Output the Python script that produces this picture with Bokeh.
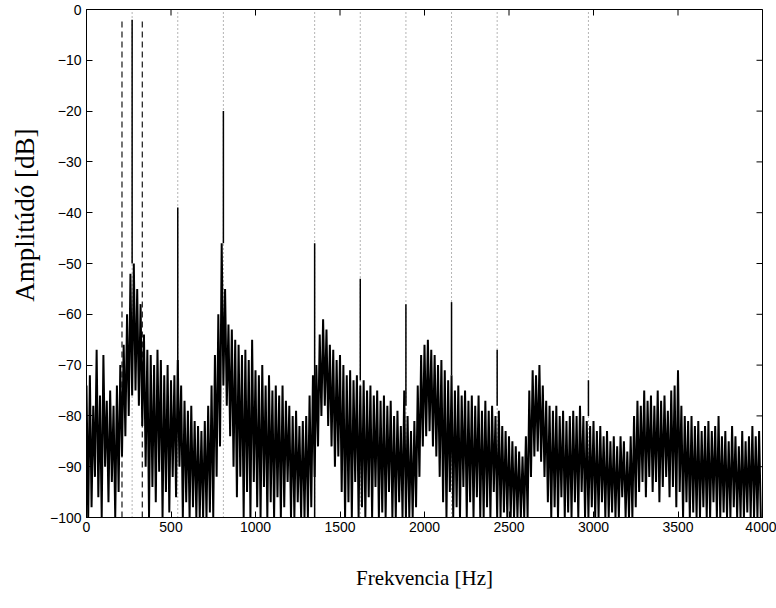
import math
from bokeh.plotting import figure
from bokeh.models import (FixedTicker, Range1d, Title, CustomJSTickFormatter)
from bokeh.embed import file_html
from bokeh.resources import INLINE

# ---------------- data ----------------
# spectrum bins, 20 Hz apart: top and bottom of the noise band (dB)
bin_hz = list(range(0, 4000, 20))
upper_db = [
    -74, -72, -78, -67, -76, -68, -77, -75, -78, -74,   # 0-180
    -70, -66, -60, -52, -50, -55, -58, -64, -67, -68,   # 200-380
    -70, -67, -69, -72, -70, -73, -72, -69, -74, -77,   # 400-580
    -79, -78, -81, -82, -83, -81, -78, -74, -68, -60,   # 600-780
    -46, -55, -62, -63, -65, -66, -68, -67, -69, -65,   # 800-980
    -71, -72, -70, -74, -72, -75, -74, -76, -74, -77,   # 1000-1180
    -78, -80, -79, -82, -81, -80, -76, -72, -70, -64,   # 1200-1380
    -61, -63, -66, -67, -69, -68, -70, -72, -71, -73,   # 1400-1580
    -72, -74, -73, -75, -74, -76, -75, -77, -76, -78,   # 1600-1780
    -77, -80, -79, -82, -75, -80, -83, -81, -74, -68,   # 1800-1980
    -66, -65, -67, -68, -70, -69, -71, -73, -72, -75,   # 2000-2180
    -74, -76, -75, -77, -76, -78, -76, -79, -77, -79,   # 2200-2380
    -78, -80, -79, -82, -83, -84, -85, -86, -87, -88,   # 2400-2580
    -84, -75, -71, -72, -70, -74, -77, -78, -79, -78,   # 2600-2780
    -80, -79, -81, -80, -79, -80, -78, -80, -81, -82,   # 2800-2980
    -81, -83, -82, -84, -83, -85, -84, -86, -84, -85,   # 3000-3180
    -87, -84, -80, -77, -78, -75, -77, -76, -78, -75,   # 3200-3380
    -77, -76, -79, -75, -74, -71, -78, -80, -81, -80,   # 3400-3580
    -82, -81, -83, -82, -81, -83, -82, -80, -84, -83,   # 3600-3780
    -85, -82, -84, -86, -83, -85, -84, -82, -84, -83,   # 3800-3980
]
lower_db = [
    -100, -98, -92, -96, -100, -90, -97, -93, -100, -95,
    -88, -84, -80, -76, -75, -78, -82, -90, -100, -94,
    -97, -91, -100, -95, -99, -92, -96, -90, -100, -97,
    -100, -98, -100, -100, -100, -100, -99, -100, -92, -86,
    -74, -78, -84, -90, -96, -92, -100, -95, -100, -93,
    -98, -100, -94, -100, -97, -100, -96, -100, -98, -93,
    -100, -100, -97, -100, -100, -100, -98, -92, -86, -80,
    -78, -82, -86, -90, -88, -95, -100, -97, -100, -93,
    -100, -98, -100, -96, -100, -94, -100, -99, -100, -95,
    -100, -100, -97, -100, -100, -100, -100, -98, -92, -86,
    -84, -83, -86, -88, -92, -97, -100, -95, -100, -98,
    -100, -94, -100, -97, -100, -96, -100, -100, -98, -100,
    -95, -100, -100, -99, -100, -100, -100, -100, -100, -100,
    -100, -92, -88, -87, -89, -92, -97, -100, -98, -100,
    -96, -100, -99, -100, -97, -100, -95, -100, -100, -98,
    -100, -100, -97, -100, -100, -99, -100, -100, -96, -100,
    -100, -100, -98, -95, -93, -96, -92, -95, -93, -97,
    -94, -92, -96, -94, -98, -95, -100, -97, -100, -99,
    -100, -100, -98, -100, -100, -97, -100, -100, -99, -100,
    -100, -98, -100, -100, -100, -99, -100, -100, -100, -100,
]

# harmonic spikes
harm_hz = [270, 540, 810, 1350, 1620, 1890, 2160, 2430, 2970]
harm_db = [-2, -39, -20, -46, -53, -58, -57.6, -67, -73]
harm_base_db = [-50, -72, -46, -100, -73, -78, -72, -78, -80]

# dotted guide lines (harmonics) and dashed band limits
guide_hz = [270, 540, 810, 1350, 1620, 1890, 2160, 2430, 2970]
band_hz = [210, 330]

x_ticks = [0, 500, 1000, 1500, 2000, 2500, 3000, 3500, 4000]
y_ticks = [-100, -90, -80, -70, -60, -50, -40, -30, -20, -10, 0]
x_min, x_max = 0, 4000
y_min, y_max = -100, 0

# ---------------- figure ----------------
p = figure(width=776, height=608, output_backend="svg", toolbar_location=None,
           x_range=Range1d(x_min, x_max), y_range=Range1d(y_min, y_max),
           min_border_left=86, min_border_right=14, min_border_top=9,
           min_border_bottom=91)
p.grid.visible = False
p.outline_line_color = "black"
p.outline_line_width = 1
p.background_fill_color = "white"
p.border_fill_color = "white"

# guide lines
p.segment(x0=guide_hz, y0=[y_min] * len(guide_hz), x1=guide_hz, y1=[y_max] * len(guide_hz),
          line_color="#6a6a6a", line_width=1, line_dash="1 3")
p.segment(x0=band_hz, y0=[y_min] * len(band_hz), x1=band_hz, y1=[max(harm_db)] * len(band_hz),
          line_color="black", line_width=1.1, line_dash="6 4")

# noise band as a dense zig-zag line
xs, ys = [], []
for f, u, l in zip(bin_hz, upper_db, lower_db):
    xs += [f, f + 10]
    ys += [u, l]
p.line(xs, ys, line_color="black", line_width=2)

# harmonic spikes
p.segment(x0=harm_hz, y0=harm_base_db, x1=harm_hz, y1=harm_db,
          line_color="black", line_width=1.5)

# inward ticks on the top and right edges of the box
p.scatter(x=x_ticks, y=[y_max] * len(x_ticks), marker="dash", angle=math.pi / 2,
          size=12, line_color="black", line_width=1)
p.scatter(x=[x_max] * len(y_ticks), y=y_ticks, marker="dash",
          size=12, line_color="black", line_width=1)

# axes styling
tick_font = "Liberation Sans"
minus_fmt = CustomJSTickFormatter(code="return tick < 0 ? '\u2212' + (-tick) : '' + tick;")

for ax in (p.xaxis[0], p.yaxis[0]):
    ax.major_tick_in = 6
    ax.major_tick_out = 0
    ax.minor_tick_line_color = None
    ax.axis_line_color = "black"
    ax.axis_line_width = 1
    ax.major_tick_line_color = "black"
    ax.major_label_text_font = tick_font
    ax.major_label_text_font_size = "14px"
    ax.major_label_text_color = "black"

p.xaxis[0].ticker = FixedTicker(ticks=x_ticks)
p.yaxis[0].ticker = FixedTicker(ticks=y_ticks)
p.yaxis[0].formatter = minus_fmt
p.xaxis[0].major_label_standoff = 4
p.yaxis[0].major_label_standoff = 5

p.xaxis[0].axis_label = "Frekvencia [Hz]"
p.xaxis[0].axis_label_text_font = "Liberation Serif"
p.xaxis[0].axis_label_text_font_style = "normal"
p.xaxis[0].axis_label_text_font_size = "21px"
p.xaxis[0].axis_label_text_color = "black"
p.xaxis[0].axis_label_standoff = 31

# y label as a side title (sits above the centre, as in the reference)
ytitle = Title(text="Amplitúdó [dB]", align="right", offset=119,
               text_font="Liberation Serif", text_font_style="normal",
               text_font_size="27px", text_color="black", standoff=14)
p.add_layout(ytitle, "left")

open("out.html", "w").write(file_html(p, INLINE))
